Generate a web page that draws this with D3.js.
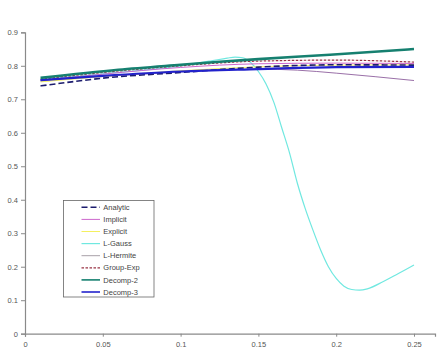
<!DOCTYPE html>
<html><head><meta charset="utf-8">
<script src="https://cdn.jsdelivr.net/npm/d3@7"></script>
<style>body{margin:0;background:#fff}svg{display:block}</style>
</head><body>
<svg id="c" width="437" height="352"></svg>
<script>
const xTicks = [0, 0.05, 0.1, 0.15, 0.2, 0.25];
const xTickLabels = ["0", "0.05", "0.1", "0.15", "0.2", "0.25"];
const yTicks = [0, 0.1, 0.2, 0.3, 0.4, 0.5, 0.6, 0.7, 0.8, 0.9];
const yTickLabels = ["0", "0.1", "0.2", "0.3", "0.4", "0.5", "0.6", "0.7", "0.8", "0.9"];

const seriesNames = ["Analytic", "Implicit", "Explicit", "L-Gauss", "L-Hermite", "Group-Exp", "Decomp-2", "Decomp-3"];

const xAnalytic = [0.01, 0.03, 0.05, 0.1, 0.15, 0.2, 0.25];
const yAnalytic = [0.740, 0.752, 0.763, 0.780, 0.796, 0.803, 0.802];

const xImplicit = [0.01, 0.05, 0.1, 0.15, 0.2, 0.25];
const yImplicit = [0.756, 0.775, 0.795, 0.806, 0.808, 0.807];

const xExplicit = [0.01, 0.05, 0.1, 0.15, 0.2, 0.25];
const yExplicit = [0.752, 0.768, 0.785, 0.797, 0.802, 0.803];

const xLGauss = [0.01, 0.05, 0.1, 0.12, 0.13, 0.135, 0.14, 0.145, 0.15, 0.155, 0.16, 0.165, 0.17, 0.175, 0.18, 0.185, 0.19, 0.195, 0.2, 0.205, 0.21, 0.215, 0.22, 0.23, 0.24, 0.25];
const yLGauss = [0.758, 0.776, 0.800, 0.815, 0.823, 0.826, 0.824, 0.810, 0.783, 0.745, 0.690, 0.615, 0.540, 0.450, 0.375, 0.310, 0.250, 0.200, 0.165, 0.142, 0.132, 0.130, 0.134, 0.155, 0.180, 0.205];

const xLHermite = [0.01, 0.05, 0.1, 0.15, 0.175, 0.2, 0.25];
const yLHermite = [0.755, 0.768, 0.782, 0.790, 0.787, 0.778, 0.756];

const xGroupExp = [0.01, 0.05, 0.1, 0.15, 0.2, 0.25];
const yGroupExp = [0.760, 0.780, 0.800, 0.814, 0.817, 0.811];

const xDecomp2 = [0.01, 0.06, 0.1, 0.125, 0.15, 0.196, 0.25];
const yDecomp2 = [0.764, 0.788, 0.803, 0.812, 0.820, 0.833, 0.850];

const xDecomp3 = [0.01, 0.05, 0.1, 0.15, 0.2, 0.25];
const yDecomp3 = [0.757, 0.770, 0.783, 0.790, 0.796, 0.797];

const seriesX = [xAnalytic, xImplicit, xExplicit, xLGauss, xLHermite, xGroupExp, xDecomp2, xDecomp3];
const seriesY = [yAnalytic, yImplicit, yExplicit, yLGauss, yLHermite, yGroupExp, yDecomp2, yDecomp3];

const styles = [
  {color:"#1c1c6e", width:1.6, dash:"6,3"},
  {color:"#cc66cc", width:1, dash:null},
  {color:"#f4f060", width:1, dash:null},
  {color:"#70e8e0", width:1.2, dash:null},
  {color:"#9a70a8", width:1, dash:null},
  {color:"#993344", width:1.2, dash:"2.5,1.5"},
  {color:"#168070", width:2.6, dash:null},
  {color:"#2222cc", width:2.2, dash:null}
];
const legendColors = ["#1c1c6e","#cc66cc","#f4f060","#70e8e0","#a8a0a8","#993344","#168070","#2222cc"];

const svg = d3.select("#c");
const x = d3.scaleLinear().domain([0, 0.2635]).range([25, 435]);
const y = d3.scaleLinear().domain([0, 0.9]).range([333.7, 32.3]);

const axisColor = "#8a8a8a";
const textColor = "#555";

// Y axis
const ya = svg.append("g").attr("transform","translate(25,0)")
  .call(d3.axisLeft(y).tickValues(yTicks).tickFormat((d,i)=>yTickLabels[i]).tickSize(4).tickPadding(3));
ya.select(".domain").attr("stroke", axisColor).attr("stroke-width",1.2);
ya.selectAll(".tick line").attr("stroke", axisColor);
ya.selectAll("text").attr("fill", textColor).style("font-family","Liberation Sans, Arial, sans-serif").style("font-size","7.5px");

// X axis
const xa = svg.append("g").attr("transform","translate(0,333.7)")
  .call(d3.axisBottom(x).tickValues(xTicks).tickFormat((d,i)=>xTickLabels[i]).tickSize(3).tickPadding(5));
xa.select(".domain").attr("stroke", axisColor).attr("stroke-width",1.2);
xa.selectAll(".tick line").attr("stroke", axisColor);
xa.selectAll("text").attr("fill", textColor).style("font-family","Liberation Sans, Arial, sans-serif").style("font-size","7.5px");

// Lines
const order = [3,4,1,2,5,0,7,6];
const line = d3.line().x(d=>x(d[0])).y(d=>y(d[1])).curve(d3.curveMonotoneX);
order.forEach(i=>{
  const data = seriesX[i].map((v,j)=>[v, seriesY[i][j]]);
  const p = svg.append("path").datum(data).attr("d", line)
    .attr("fill","none").attr("stroke", styles[i].color).attr("stroke-width", styles[i].width);
  if (styles[i].dash) p.attr("stroke-dasharray", styles[i].dash);
});

// Legend
const lg = svg.append("g");
lg.append("rect").attr("x",63.5).attr("y",200.5).attr("width",90.5).attr("height",96.5)
  .attr("fill","#fff").attr("stroke","#666").attr("stroke-width",0.8);
seriesNames.forEach((n,i)=>{
  const yy = 207.3 + i*12.1;
  const l = lg.append("line").attr("x1",81.5).attr("x2",100).attr("y1",yy).attr("y2",yy)
    .attr("stroke", legendColors[i]).attr("stroke-width", Math.min(styles[i].width,1.6));
  if (styles[i].dash) l.attr("stroke-dasharray", styles[i].dash);
  lg.append("text").attr("x",103.3).attr("y",yy).attr("dy","0.35em").text(n)
    .attr("fill","#444").style("font-family","Liberation Sans, Arial, sans-serif").style("font-size","7.5px");
});
</script>
</body></html>
